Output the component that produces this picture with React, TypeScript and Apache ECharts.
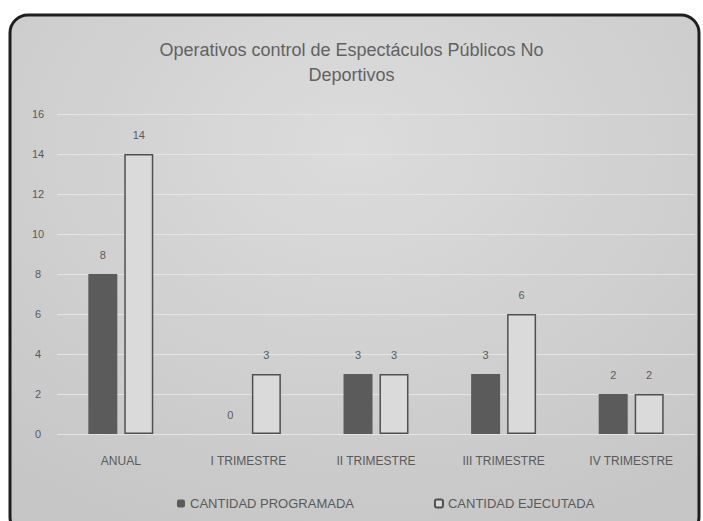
import React, { useEffect, useRef } from "react";
import * as echarts from "echarts";

const categories = ["ANUAL", "I TRIMESTRE", "II TRIMESTRE", "III TRIMESTRE", "IV TRIMESTRE"];
const programada = [8, 0, 3, 3, 2];
const ejecutada = [14, 3, 3, 6, 2];
const seriesNames = ["CANTIDAD PROGRAMADA", "CANTIDAD EJECUTADA"];
const titleText = "Operativos control de Espectáculos Públicos No\nDeportivos";

export default function App() {
  const ref = useRef<HTMLDivElement>(null);
  useEffect(() => {
    const chart = echarts.init(ref.current!, null, { renderer: "svg" });
    const font = "Liberation Sans";
    const textColor = "#5a5a5a";
    chart.setOption({
      animation: false,
      backgroundColor: "#ffffff",
      graphic: [
        {
          type: "rect",
          z: -10,
          shape: { x: 10, y: 15, width: 689, height: 520, r: 18 },
          style: {
            fill: {
              type: "radial",
              x: 0.5,
              y: 0.25,
              r: 0.8,
              colorStops: [
                { offset: 0, color: "#dcdcdc" },
                { offset: 1, color: "#c6c6c6" },
              ],
            },
            stroke: "#1e1e1e",
            lineWidth: 3,
          },
        },
      ],
      title: {
        text: titleText,
        left: "center",
        top: 32,
        textStyle: {
          fontFamily: font,
          fontSize: 18,
          fontWeight: "normal",
          color: "#626262",
          lineHeight: 25,
        },
      },
      legend: {
        bottom: 6,
        left: 172,
        itemGap: 80,
        itemWidth: 8,
        itemHeight: 8,
        textStyle: { fontFamily: font, fontSize: 13, color: textColor },
        data: seriesNames,
      },
      grid: { left: 57, right: 8, top: 114, bottom: 87 },
      xAxis: {
        type: "category",
        data: categories,
        axisLine: { show: false },
        axisTick: { show: false },
        axisLabel: { fontFamily: font, fontSize: 12, color: textColor, margin: 21 },
      },
      yAxis: {
        type: "value",
        min: 0,
        max: 16,
        interval: 2,
        axisLine: { show: false },
        axisTick: { show: false },
        axisLabel: { fontFamily: font, fontSize: 11, color: textColor, margin: 19, align: "center" },
        splitLine: { lineStyle: { color: "#e4e4e4", width: 1 } },
      },
      series: [
        {
          name: seriesNames[0],
          type: "bar",
          data: programada,
          barWidth: 29,
          barGap: "24%",
          itemStyle: { color: "#5b5b5b", borderWidth: 0 },
          label: { show: true, position: "top", distance: 14, fontFamily: font, fontSize: 11, color: textColor },
        },
        {
          name: seriesNames[1],
          type: "bar",
          data: ejecutada,
          barWidth: 29,
          itemStyle: { color: "#dadada", borderColor: "#505050", borderWidth: 1.5 },
          label: { show: true, position: "top", distance: 14, fontFamily: font, fontSize: 11, color: textColor },
        },
      ],
    });
    return () => chart.dispose();
  }, []);
  return (
    <div
      ref={ref}
      style={{ position: "fixed", left: 0, top: 0, width: 703, height: 521 }}
    />
  );
}
